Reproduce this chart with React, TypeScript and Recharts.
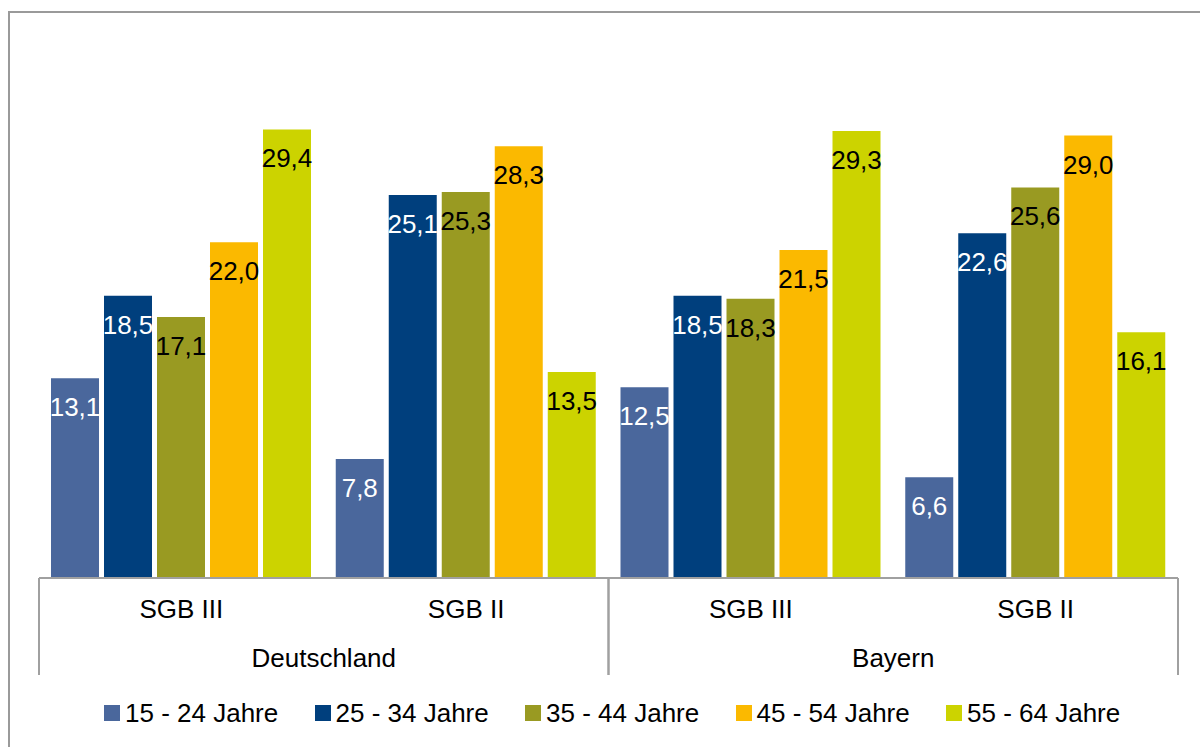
import { BarChart, Bar, XAxis, YAxis, LabelList } from 'recharts';

const categories = ['SGB III', 'SGB II', 'SGB III', 'SGB II'];
const regions = ['Deutschland', 'Deutschland', 'Bayern', 'Bayern'];

const seriesNames = ['15 - 24 Jahre', '25 - 34 Jahre', '35 - 44 Jahre', '45 - 54 Jahre', '55 - 64 Jahre'];
const age15to24 = [13.1, 7.8, 12.5, 6.6];
const age25to34 = [18.5, 25.1, 18.5, 22.6];
const age35to44 = [17.1, 25.3, 18.3, 25.6];
const age45to54 = [22.0, 28.3, 21.5, 29.0];
const age55to64 = [29.4, 13.5, 29.3, 16.1];

const COLORS = ['#4A679C', '#003F7D', '#999A22', '#FBB900', '#CCD300'];
const LABEL_COLORS = ['#FFFFFF', '#FFFFFF', '#000000', '#000000', '#000000'];
const KEYS = ['a', 'b', 'c', 'd', 'e'];

const data = categories.map((cat, i) => ({
  cat,
  region: regions[i],
  a: age15to24[i],
  b: age25to34[i],
  c: age35to44[i],
  d: age45to54[i],
  e: age55to64[i],
}));

const FONT = '"Liberation Sans", Arial, sans-serif';
const W = 1200;
const H = 747;
const PLOT_LEFT = 39;
const PLOT_RIGHT = 1178;
const PLOT_BOTTOM = 578;
const PLOT_W = PLOT_RIGHT - PLOT_LEFT;

const fmt = (v: number) => v.toFixed(1).replace('.', ',');

function CatTick(props: any) {
  const { x, payload } = props;
  return (
    <text x={x} y={PLOT_BOTTOM + 40} textAnchor="middle" fontSize={26} fontFamily={FONT} fill="#000">
      {payload.value}
    </text>
  );
}

// group labels (Deutschland / Bayern) with the separator lines at the band edges
function GroupTick(props: any) {
  const { x, payload } = props;
  const half = PLOT_W / 4;
  return (
    <g>
      <line x1={x - half} x2={x - half} y1={PLOT_BOTTOM} y2={PLOT_BOTTOM + 97} stroke="#A0A0A0" strokeWidth={2} />
      <line x1={x + half} x2={x + half} y1={PLOT_BOTTOM} y2={PLOT_BOTTOM + 97} stroke="#A0A0A0" strokeWidth={2} />
      <text x={x} y={PLOT_BOTTOM + 89} textAnchor="middle" fontSize={26} fontFamily={FONT} fill="#000">
        {payload.value}
      </text>
    </g>
  );
}

function makeLabel(color: string) {
  return (props: any) => {
    const { x, y, width, value } = props;
    return (
      <text x={x + width / 2} y={y + 38} textAnchor="middle" fontSize={26} fontFamily={FONT} fill={color}>
        {fmt(value)}
      </text>
    );
  };
}

export default function App() {
  return (
    <div style={{ position: 'absolute', left: 0, top: 0, width: W, height: H, overflow: 'hidden', background: '#fff' }}>
      <div
        style={{
          position: 'absolute',
          left: 8,
          top: 11,
          width: W + 40,
          height: H + 40,
          borderLeft: '2px solid #9A9A9A',
          borderTop: '2px solid #9A9A9A',
        }}
      />
      <div style={{ position: 'absolute', left: 0, top: 0 }}>
        <BarChart
          width={W}
          height={H}
          data={data}
          margin={{ top: 44, right: W - PLOT_RIGHT, bottom: H - PLOT_BOTTOM - 97, left: PLOT_LEFT }}
          barCategoryGap={12}
          barGap={5}
        >
          <YAxis hide domain={[0, 35]} />
          <XAxis
            dataKey="cat"
            height={48}
            tickSize={0}
            tickMargin={0}
            tickLine={false}
            axisLine={{ stroke: '#A0A0A0', strokeWidth: 2 }}
            tick={<CatTick />}
            interval={0}
          />
          <XAxis
            xAxisId="grp"
            dataKey="region"
            allowDuplicatedCategory={false}
            height={49}
            tickSize={0}
            tickMargin={0}
            tickLine={false}
            axisLine={false}
            tick={<GroupTick />}
            interval={0}
          />
          {KEYS.map((k, i) => (
            <Bar key={k} dataKey={k} name={seriesNames[i]} fill={COLORS[i]} isAnimationActive={false}>
              <LabelList dataKey={k} content={makeLabel(LABEL_COLORS[i])} />
            </Bar>
          ))}
        </BarChart>
      </div>
      <div style={{ position: 'absolute', left: 104, top: 696, display: 'flex', fontFamily: FONT, fontSize: 26 }}>
        {seriesNames.map((name, i) => (
          <div key={name} style={{ width: 210.5, display: 'flex', alignItems: 'center', height: 34 }}>
            <span style={{ display: 'inline-block', width: 16, height: 16, background: COLORS[i], marginRight: 5 }} />
            <span style={{ color: '#000', whiteSpace: 'nowrap' }}>{name}</span>
          </div>
        ))}
      </div>
    </div>
  );
}
